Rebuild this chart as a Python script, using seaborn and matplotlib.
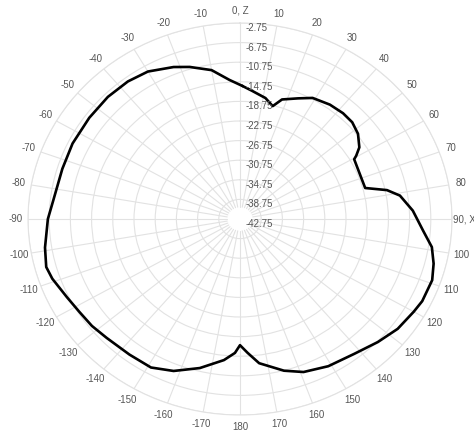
import numpy as np
import pandas as pd
import matplotlib
matplotlib.use("Agg")
import matplotlib.pyplot as plt
import seaborn as sns

# -- radiation pattern (angle in deg, gain in dB)
angle_deg = [1, 5, 11, 15, 18, 24, 29, 36, 42, 47, 52, 57, 59.5, 60.5, 66, 75,
             78, 81, 87, 94, 99, 104, 109, 116, 120, 127, 134, 142, 151, 159,
             165, 173, 177, 180, 182, 186, 194, 202, 209, 217, 226, 232, 238,
             244, 251, 255, 261, 270, 276, 287, 296, 306, 315, 323, 330, 338,
             343, 350, 356]
gain_db = [-15.6, -16.5, -17.6, -18.9, -17.1, -15.8, -14.5, -13.9, -13.7, -13.8,
           -14.5, -15.9, -17.3, -18.0, -18.3, -18.3, -14.4, -12.2, -10.1, -8.1,
           -6.1, -5.1, -4.4, -4.5, -4.9, -5.5, -6.6, -7.8, -8.4, -9.3, -10.7,
           -13.1, -15.4, -17.0, -15.4, -13.8, -11.4, -9.3, -8.1, -8.1, -7.8,
           -7.3, -7.0, -6.4, -5.3, -4.9, -5.5, -6.5, -7.3, -7.7, -7.6, -7.6,
           -7.5, -7.6, -8.0, -9.3, -10.3, -11.9, -14.3]

r_ticks = [-42.75, -38.75, -34.75, -30.75, -26.75, -22.75, -18.75, -14.75,
           -10.75, -6.75, -2.75]
r_labels = ["-42.75", "-38.75", "-34.75", "-30.75", "-26.75", "-22.75",
            "-18.75", "-14.75", "-10.75", "-6.75", "-2.75"]
theta_ticks = list(range(0, 360, 10))
theta_labels = ["0, Z" if t == 0 else "90, X" if t == 90 else
                str(t if t <= 180 else t - 360) for t in theta_ticks]

# close the loop by repeating the first point one turn later
df = pd.DataFrame({"theta": np.radians(angle_deg + [angle_deg[0] + 360]),
                   "gain": gain_db + gain_db[:1]})

sns.set_theme(style="white")
plt.rcParams["font.family"] = ["Liberation Sans", "DejaVu Sans"]

grid_col = "#e2e2e2"
fig = plt.figure(figsize=(4.74, 4.33), dpi=100)
ax = fig.add_axes([28/474, 18/433, 424/474, 392/433], projection="polar")
ax.set_aspect("auto")
ax.set_theta_zero_location("N")
ax.set_theta_direction(-1)
ax.set_ylim(r_ticks[0], r_ticks[-1])

# spokes stop short of the centre like the original
for t in theta_ticks:
    ax.plot([np.radians(t)] * 2, [-40.3, r_ticks[-1]], color=grid_col, lw=0.8, zorder=0)
ax.xaxis.grid(False)
ax.yaxis.grid(True, color=grid_col, lw=0.8)
ax.spines["polar"].set_color(grid_col)
ax.spines["polar"].set_linewidth(0.8)

sns.lineplot(data=df, x="theta", y="gain", sort=False, estimator=None,
             color="black", linewidth=1.9, ax=ax, zorder=3)

ax.set_xticks(np.radians(theta_ticks))
ax.set_xticklabels(theta_labels, fontsize=7, color="#555555")
ax.tick_params(axis="x", pad=-4)
ax.set_yticks(r_ticks)
ax.set_yticklabels([])
for r, lab in zip(r_ticks, r_labels):
    ax.annotate(lab, (0, r), xytext=(6, -5), textcoords="offset pixels",
                ha="left", va="center", fontsize=7, color="#555555")
ax.set_xlabel("")
ax.set_ylabel("")

fig.savefig("out.png", dpi=100, facecolor="white")
